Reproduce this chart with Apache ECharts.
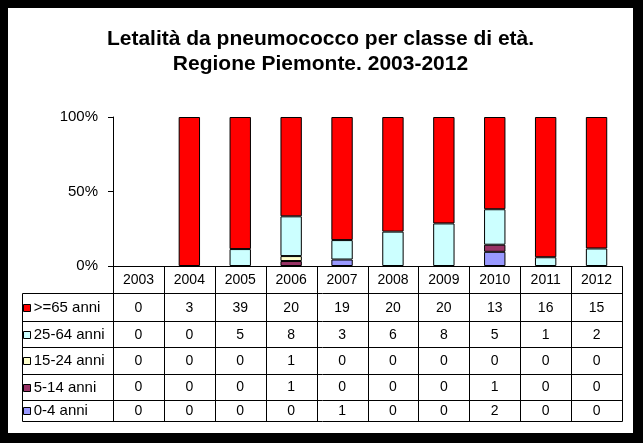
<!DOCTYPE html>
<html><head><meta charset="utf-8">
<script src="https://cdn.jsdelivr.net/npm/echarts@6/dist/echarts.min.js"></script>
<style>
html,body{margin:0;padding:0;background:#000;width:643px;height:443px;overflow:hidden}
#c{position:absolute;left:8px;top:8px;width:625px;height:425px;background:#fff}
</style></head><body><div id="c"></div>
<script>
const years = ['2003','2004','2005','2006','2007','2008','2009','2010','2011','2012'];
const rowNames = ['>=65 anni','25-64 anni','15-24 anni','5-14 anni','0-4 anni'];
const v65 = [0,3,39,20,19,20,20,13,16,15];
const v2564 = [0,0,5,8,3,6,8,5,1,2];
const v1524 = [0,0,0,1,0,0,0,0,0,0];
const v514 = [0,0,0,1,0,0,0,1,0,0];
const v04 = [0,0,0,0,1,0,0,2,0,0];
const rowColors = ['#FF0000','#CCFFFF','#FFFFCC','#993366','#9999FF'];
const yTicks = [0,50,100];
const titleText = 'Letalità da pneumococco per classe di età.\nRegione Piemonte. 2003-2012';

const rows = [v65, v2564, v1524, v514, v04];
const totals = years.map((_, i) => rows.reduce((s, r) => s + r[i], 0));
const pct = r => r.map((v, i) => (totals[i] && v) ? v / totals[i] * 100 : null);

const FONT = "'Liberation Sans', Arial, sans-serif";
const chart = echarts.init(document.getElementById('c'), null, {renderer: 'canvas'});

// stacking order bottom -> top: 0-4, 5-14, 15-24, 25-64, >=65
const order = [4, 3, 2, 1, 0];
const series = order.map(k => ({
  name: rowNames[k],
  type: 'bar',
  stack: 'tot',
  barWidth: '42%',
  data: pct(rows[k]),
  itemStyle: {color: rowColors[k], borderColor: '#000', borderWidth: 1},
  emphasis: {disabled: true},
  animation: false
}));

const grid = {left: 105, top: 109, width: 509, height: 149};

chart.setOption({
  animation: false,
  title: {
    text: titleText, left: 'center', top: 14,
    textStyle: {fontFamily: FONT, fontSize: 21, fontWeight: 'bold', color: '#000', lineHeight: 25}
  },
  grid: grid,
  xAxis: {
    type: 'category', data: years,
    axisLine: {lineStyle: {color: '#000', width: 1}},
    axisTick: {show: false}, axisLabel: {show: false}
  },
  yAxis: {
    type: 'value', min: yTicks[0], max: yTicks[yTicks.length - 1], interval: yTicks[1] - yTicks[0],
    axisLine: {show: true, lineStyle: {color: '#000', width: 1}},
    axisTick: {show: true, length: 5, lineStyle: {color: '#000'}},
    splitLine: {show: false},
    axisLabel: {formatter: '{value}%', color: '#000', fontFamily: FONT, fontSize: 15, margin: 15}
  },
  series: series
});

// Data table below the plot, positioned from the category axis scale
const c0 = chart.convertToPixel({gridIndex: 0}, [0, 0]);
const c1 = chart.convertToPixel({gridIndex: 0}, [1, 0]);
const bw = c1[0] - c0[0];
const baseY = c0[1];
const rowH = [27.3, 27.7, 26.3, 26.7, 26, 21];
const rowY = [baseY];
rowH.forEach(h => rowY.push(rowY[rowY.length - 1] + h));
const leftX = 13.7;
const plotL = c0[0] - bw / 2;
const plotR = plotL + bw * years.length;
const snap = v => Math.round(v) + 0.5;
const els = [];
const lineStyle = {stroke: '#000', lineWidth: 1};
for (let k = 0; k < rowY.length; k++) {
  const x1 = k === 0 ? plotL : leftX;
  els.push({type: 'line', shape: {x1: snap(x1), y1: snap(rowY[k]), x2: snap(plotR), y2: snap(rowY[k])}, style: lineStyle, silent: true});
}
for (let j = 0; j <= years.length; j++) {
  const x = snap(plotL + j * bw);
  els.push({type: 'line', shape: {x1: x, y1: snap(rowY[0]), x2: x, y2: snap(rowY[rowY.length - 1])}, style: lineStyle, silent: true});
}
els.push({type: 'line', shape: {x1: snap(leftX), y1: snap(rowY[1]), x2: snap(leftX), y2: snap(rowY[rowY.length - 1])}, style: lineStyle, silent: true});
// header years
years.forEach((y, i) => {
  const cx = chart.convertToPixel({gridIndex: 0}, [i, 0])[0];
  els.push({type: 'text', x: cx, y: (rowY[0] + rowY[1]) / 2 + 0.5, silent: true,
    style: {text: y, fontFamily: FONT, fontSize: 14, fill: '#000', align: 'center', verticalAlign: 'middle'}});
});
// rows
rows.forEach((r, k) => {
  const cy = (rowY[k + 1] + rowY[k + 2]) / 2 + 0.5;
  els.push({type: 'rect', shape: {x: Math.round(leftX) + 1.5, y: Math.round(cy) - 3.5, width: 7, height: 7},
    style: {fill: rowColors[k], stroke: '#000', lineWidth: 1}, silent: true});
  els.push({type: 'text', x: leftX + 12, y: cy, silent: true,
    style: {text: rowNames[k], fontFamily: FONT, fontSize: 15, fill: '#000', align: 'left', verticalAlign: 'middle'}});
  r.forEach((v, i) => {
    const cx = chart.convertToPixel({gridIndex: 0}, [i, 0])[0];
    els.push({type: 'text', x: cx, y: cy, silent: true,
      style: {text: String(v), fontFamily: FONT, fontSize: 14, fill: '#000', align: 'center', verticalAlign: 'middle'}});
  });
});
chart.setOption({graphic: {elements: els}});
</script></body></html>
